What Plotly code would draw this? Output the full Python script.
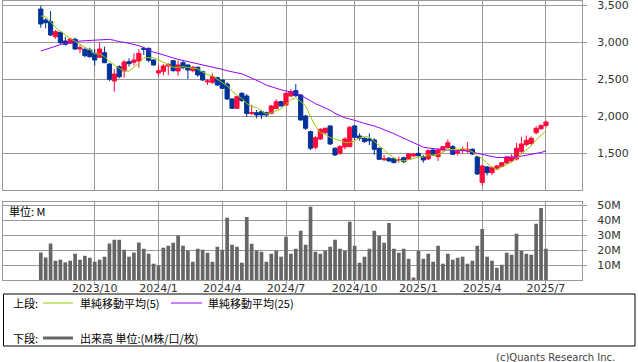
import pandas as pd
import plotly.graph_objects as go

# ---------------- data (weekly bars) ----------------
dates = pd.date_range("2023-07-17", periods=104, freq="7D").strftime("%Y-%m-%d").tolist()

open_ = [3446, 3298, 3275, 3072, 3132, 3014, 2983, 3037, 2906, 2902,
         2893, 2848, 2795, 2857, 2704, 2475, 2668, 2610, 2735, 2727,
         2745, 2916, 2916, 2758, 2583, 2606, 2677, 2749, 2610, 2722,
         2691, 2614, 2660, 2600, 2461, 2457, 2519, 2488, 2434, 2232,
         2106, 2309, 2272, 2036, 2047, 2061, 2047, 2039, 2106, 2196,
         2151, 2272, 2344, 2286, 2003, 1791, 1580, 1692, 1777, 1868,
         1567, 1499, 1584, 1589, 1868, 1733, 1702, 1692, 1679, 1567,
         1413, 1432, 1427, 1405, 1440, 1419, 1463, 1499, 1454, 1423,
         1544, 1454, 1544, 1575, 1589, 1504, 1535, 1535, 1553, 1450,
         1106, 1315, 1238, 1288, 1324, 1369, 1396, 1423, 1526, 1618,
         1632, 1777, 1831, 1874]
high = [3490, 3321, 3419, 3163, 3140, 3072, 3059, 3059, 2960, 2929,
        2924, 2906, 2991, 2938, 2714, 2633, 2687, 2758, 2781, 2848,
        2906, 2938, 2924, 2768, 2691, 2704, 2714, 2758, 2749, 2758,
        2695, 2677, 2668, 2614, 2502, 2579, 2533, 2492, 2457, 2241,
        2272, 2322, 2299, 2151, 2084, 2084, 2061, 2151, 2228, 2209,
        2322, 2363, 2434, 2295, 2016, 1804, 1733, 1837, 1845, 1877,
        1580, 1611, 1715, 1868, 1881, 1769, 1715, 1769, 1702, 1575,
        1477, 1454, 1446, 1454, 1454, 1499, 1494, 1589, 1477, 1553,
        1553, 1567, 1598, 1688, 1611, 1553, 1589, 1652, 1567, 1463,
        1342, 1328, 1319, 1342, 1382, 1463, 1490, 1638, 1719, 1740,
        1726, 1864, 1888, 1939]
low = [3194, 3186, 3082, 3045, 2970, 2951, 2974, 2893, 2848, 2795,
       2789, 2681, 2785, 2714, 2475, 2331, 2511, 2519, 2668, 2681,
       2654, 2826, 2727, 2681, 2542, 2552, 2552, 2600, 2546, 2633,
       2502, 2592, 2533, 2475, 2421, 2434, 2407, 2367, 2218, 2097,
       2097, 2191, 1989, 2016, 1972, 1962, 1993, 2026, 2093, 2128,
       2142, 2263, 2263, 1939, 1814, 1544, 1553, 1679, 1760, 1611,
       1463, 1477, 1553, 1580, 1679, 1669, 1642, 1611, 1477, 1409,
       1396, 1386, 1365, 1373, 1365, 1409, 1454, 1454, 1373, 1409,
       1463, 1396, 1521, 1567, 1477, 1470, 1499, 1504, 1477, 1207,
       1065, 1200, 1203, 1274, 1315, 1359, 1382, 1402, 1504, 1591,
       1611, 1753, 1814, 1847]
close = [3244, 3261, 3095, 3140, 2991, 2970, 3041, 2906, 2924, 2816,
         2803, 2758, 2906, 2722, 2498, 2569, 2533, 2731, 2708, 2758,
         2848, 2902, 2754, 2691, 2614, 2677, 2700, 2614, 2691, 2654,
         2623, 2660, 2556, 2488, 2475, 2533, 2421, 2376, 2232, 2106,
         2263, 2212, 2036, 2050, 2016, 2016, 2016, 2138, 2196, 2138,
         2309, 2331, 2276, 1949, 1837, 1567, 1710, 1823, 1837, 1625,
         1477, 1589, 1692, 1850, 1715, 1702, 1656, 1669, 1553, 1419,
         1423, 1396, 1373, 1413, 1386, 1490, 1490, 1467, 1409, 1535,
         1477, 1544, 1589, 1642, 1486, 1521, 1553, 1553, 1490, 1220,
         1328, 1238, 1305, 1328, 1373, 1450, 1446, 1567, 1625, 1675,
         1702, 1837, 1874, 1922]
volume_m = [18.4, 15.1, 24.4, 12.9, 13.6, 11.8, 12.9, 17.6, 13.6, 16.2,
            14.9, 12.2, 13.6, 15.6, 24.4, 26.9, 26.9, 20.2, 15.6, 18.4,
            25.1, 20.9, 17.6, 10.9, 9.8, 21.6, 22.9, 24.9, 29.8, 22.9,
            19.8, 12.2, 20.9, 20.2, 18.2, 12.2, 22.2, 20.2, 41.6, 23.6,
            22.2, 11.6, 42.2, 24.2, 19.8, 18.9, 12.2, 17.6, 19.6, 15.6,
            28.9, 17.6, 20.9, 32.9, 23.6, 49.1, 18.9, 17.6, 19.6, 22.2,
            26.9, 20.9, 19.6, 38.9, 22.9, 11.6, 15.6, 20.9, 32.9, 29.6,
            24.9, 38.2, 20.9, 18.2, 20.9, 14.2, 1.6, 19.6, 14.2, 17.6,
            12.2, 22.9, 10.9, 17.6, 13.6, 14.9, 15.6, 10.9, 12.9, 22.9,
            34.2, 15.6, 12.9, 8.2, 10.2, 18.2, 16.9, 30.9, 19.6, 17.6,
            16.9, 37.6, 48.2, 20.9]

# moving-average values at the first bars (they depend on earlier weeks)
sma5_head = [3352, 3342, 3275, 3199]
sma25_head = [2879, 2902, 2924, 2947, 2965, 2983, 2997, 3005, 3014, 3019,
              3024, 3028, 3037, 3037, 3037, 3024, 3005, 2997, 2983, 2970,
              2951, 2924, 2893, 2862]

tick_dates = ["2023-10-02", "2024-01-01", "2024-04-01", "2024-07-01",
              "2024-10-07", "2025-01-06", "2025-04-07", "2025-07-07"]
tick_labels = ["2023/10", "2024/1", "2024/4", "2024/7",
               "2024/10", "2025/1", "2025/4", "2025/7"]
price_ticks = [1500, 2000, 2500, 3000, 3500]
volume_ticks = [10, 20, 30, 40, 50]
volume_tick_labels = ["10M", "20M", "30M", "40M", "50M"]

close_s = pd.Series(close)
sma5 = sma5_head + close_s.rolling(5).mean().iloc[4:].round(1).tolist()
sma25 = sma25_head + close_s.rolling(25).mean().iloc[24:].round(1).tolist()

# ---------------- style ----------------
RED = "#ff0a3c"
BLUE = "#003399"
GREEN = "#99cc00"
PURPLE = "#9900ff"
GRID = "#999999"
VOL = "#666666"
NUM_FONT = dict(family="DejaVu Sans", size=11, color="#333333")
JP_FONT = dict(family="Noto Sans CJK JP", size=11, color="#000000")

W, H = 638, 362
L, R, T, B = 3, 56, 1, 82
PW, PH = W - L - R, H - T - B


def px(x):
    return (x - L) / PW


def py(y):
    return (H - B - y) / PH


fig = go.Figure()
fig.add_trace(go.Bar(x=dates, y=volume_m, marker=dict(color=VOL, line=dict(width=0)),
                     xaxis="x", yaxis="y", hoverinfo="skip"))
fig.add_trace(go.Candlestick(x=dates, open=open_, high=high, low=low, close=close,
                             increasing=dict(line=dict(color=RED, width=1), fillcolor=RED),
                             decreasing=dict(line=dict(color=BLUE, width=1), fillcolor=BLUE),
                             whiskerwidth=0, xaxis="x2", yaxis="y2", hoverinfo="skip"))
fig.add_trace(go.Scatter(x=dates, y=sma25, mode="lines", line=dict(color=PURPLE, width=1),
                         xaxis="x2", yaxis="y2", hoverinfo="skip"))
fig.add_trace(go.Scatter(x=dates, y=sma5, mode="lines", line=dict(color=GREEN, width=1),
                         xaxis="x2", yaxis="y2", hoverinfo="skip"))

xrange = [-7.7, 110.35]
common_x = dict(type="category", range=xrange, tickvals=tick_dates, ticktext=tick_labels,
                showgrid=True, gridcolor=GRID, gridwidth=1, showline=True, mirror=True,
                linecolor=GRID, linewidth=1, zeroline=False, automargin=False)
common_y = dict(side="right", showgrid=True, gridcolor=GRID, showline=True, mirror=True,
                linecolor=GRID, ticks="outside", ticklen=4, tickcolor=GRID,
                tickfont=NUM_FONT, zeroline=False, ticklabelstandoff=8,
                automargin=False, ticklabeloverflow="allow")

fig.update_layout(
    width=W, height=H, margin=dict(l=L, r=R, t=T, b=B, pad=0, autoexpand=False),
    paper_bgcolor="white", plot_bgcolor="white", showlegend=False,
    hovermode=False, bargap=0.25, boxgap=0.1, boxgroupgap=0.05,
    xaxis=dict(common_x, anchor="y", domain=[0, 1], ticks="outside", ticklen=3,
               tickcolor=GRID, tickfont=NUM_FONT, showticklabels=True,
               ticklabelstandoff=-5, rangeslider=dict(visible=False)),
    xaxis2=dict(common_x, anchor="y2", matches="x", ticks="", showticklabels=False,
                rangeslider=dict(visible=False)),
    yaxis=dict(common_y, domain=[0, py(201.7)], range=[0, 52.4], tickvals=volume_ticks,
               ticktext=volume_tick_labels),
    yaxis2=dict(common_y, domain=[py(190.3), 1], range=[1000, 3554], tickvals=price_ticks,
                tickformat=",d"),
)

shapes = [
    dict(type="rect", xref="paper", yref="paper", x0=px(3.5), x1=px(635), y0=py(294), y1=py(346),
         line=dict(color="#000000", width=1), fillcolor="rgba(0,0,0,0)"),
    dict(type="line", xref="paper", yref="paper", x0=px(43), x1=px(73), y0=py(303), y1=py(303),
         line=dict(color=GREEN, width=1)),
    dict(type="line", xref="paper", yref="paper", x0=px(171), x1=px(202), y0=py(303), y1=py(303),
         line=dict(color=PURPLE, width=1)),
    dict(type="line", xref="paper", yref="paper", x0=px(43), x1=px(73), y0=py(338), y1=py(338),
         line=dict(color=VOL, width=3)),
]
fig.update_layout(shapes=shapes)


def note(text, x, y, font, anchor="left"):
    fig.add_annotation(text=text, xref="paper", yref="paper", x=px(x), y=py(y),
                       xanchor=anchor, yanchor="middle", showarrow=False, font=font)


note("単位: M", 7, 210.5, JP_FONT)
note("上段:", 11, 303, JP_FONT)
note("単純移動平均(5)", 78, 303, JP_FONT)
note("単純移動平均(25)", 206, 303, JP_FONT)
note("下段:", 11, 338, JP_FONT)
note("出来高 単位:(M株/口/枚)", 78, 338, JP_FONT)
note("(c)Quants Research Inc.", 617, 357.5,
     dict(family="DejaVu Sans", size=10, color="#444444"), anchor="right")

fig.write_html("out.html", config={"staticPlot": True},
               post_script="document.body.style.margin='0';document.body.style.padding='0';")
